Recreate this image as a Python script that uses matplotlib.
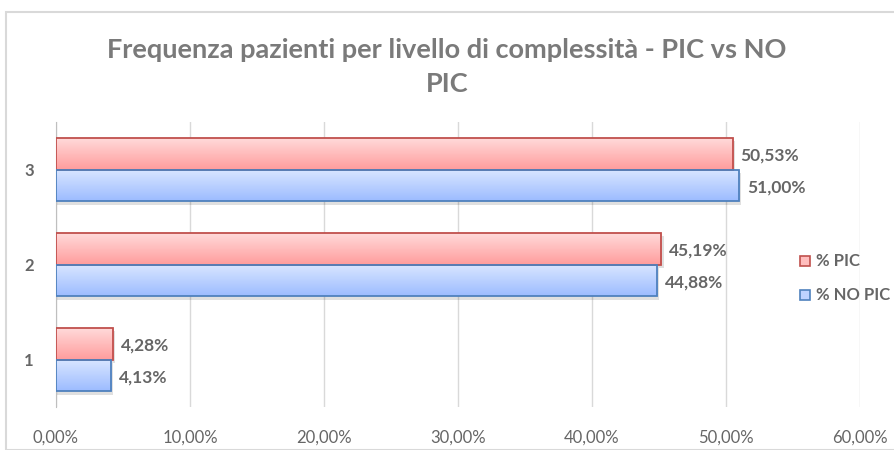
import numpy as np
import matplotlib
matplotlib.use('Agg')
import matplotlib.pyplot as plt
from matplotlib.colors import LinearSegmentedColormap
from matplotlib.patches import Rectangle

categories = ['1', '2', '3']
pic = [4.28, 45.19, 50.53]
no_pic = [4.13, 44.88, 51.00]
xticks = [0, 10, 20, 30, 40, 50, 60]

grey = '#666666'
plt.rcParams['font.family'] = ['Lato', 'DejaVu Sans']

fig = plt.figure(figsize=(8.94, 4.5), dpi=100)
ax = fig.add_axes([0.0626, 0.0956, 0.8993, 0.633])

# Chart frame
fig.patches.append(Rectangle((6 / 894, 0), 1, 1 - 12 / 450, transform=fig.transFigure,
                             fill=False, edgecolor='#d9d9d9', lw=1.5))

cmap_red = LinearSegmentedColormap.from_list('r', ['#ff9c9c', '#ffdada'])
cmap_blue = LinearSegmentedColormap.from_list('b', ['#9cbcff', '#dae6ff'])
grad = np.linspace(0, 1, 64).reshape(-1, 1)

h = 0.335
y = np.arange(1, len(categories) + 1)


def gbar(yc, w, cmap, edge):
    y0, y1 = yc - h / 2, yc + h / 2
    # soft shadow
    ax.add_patch(Rectangle((0, y0 - 0.035), w + 0.15, h, facecolor='#000000',
                           alpha=0.12, lw=0, zorder=2))
    rect = Rectangle((0, y0), w, h, facecolor='none', edgecolor=edge, lw=1.3, zorder=4)
    ax.add_patch(rect)
    im = ax.imshow(grad, cmap=cmap, aspect='auto', extent=(0, w, y0, y1),
                   origin='lower', zorder=3)
    im.set_clip_path(rect)


def pct(v):
    return f'{v:.2f}%'.replace('.', ',')


for i in range(len(categories)):
    gbar(y[i] + h / 2, pic[i], cmap_red, '#c0504d')
    gbar(y[i] - h / 2, no_pic[i], cmap_blue, '#4f81bd')
    ax.text(pic[i] + 0.55, y[i] + h / 2 - 0.02, pct(pic[i]),
            va='center', ha='left', fontsize=12.5, fontweight='bold', color=grey, zorder=5)
    ax.text(no_pic[i] + 0.55, y[i] - h / 2 - 0.02, pct(no_pic[i]),
            va='center', ha='left', fontsize=12.5, fontweight='bold', color=grey, zorder=5)

ax.set_xlim(0, 60)
ax.set_ylim(0.5, 3.5)
ax.set_xticks(xticks)
ax.set_xticklabels([pct(t) for t in xticks])
ax.set_yticks(y)
ax.set_yticklabels(categories)
ax.grid(axis='x', color='#d9d9d9', lw=1, zorder=0)
ax.set_axisbelow(True)
for s in ['top', 'right', 'bottom']:
    ax.spines[s].set_visible(False)
ax.spines['left'].set_color('#bfbfbf')
ax.tick_params(axis='y', length=0, pad=16, labelsize=12, labelcolor=grey)
ax.tick_params(axis='x', length=0, pad=16, labelsize=12, labelcolor=grey)
for lab in ax.get_yticklabels():
    lab.set_fontweight('bold')

fig.text(0.5, 1 - 67 / 450, 'Frequenza pazienti per livello di complessità - PIC vs NO\nPIC',
         ha='center', va='center', fontsize=19.5, fontweight='bold', color='#7a7a7a',
         linespacing=1.5)

# Legend
lx = 800 / 894
for k, (lab, fc, ec) in enumerate([('% PIC', '#ffbdbd', '#c0504d'),
                                   ('% NO PIC', '#bdd2ff', '#4f81bd')]):
    yy = 1 - (261 + k * 34) / 450
    fig.patches.append(Rectangle((lx, yy - 5 / 450), 10 / 894, 10 / 450,
                                 transform=fig.transFigure, facecolor=fc,
                                 edgecolor=ec, lw=1.2))
    fig.text(lx + 16 / 894, yy, lab, ha='left', va='center', fontsize=12,
             fontweight='bold', color=grey)

fig.savefig('out.png', dpi=100)
